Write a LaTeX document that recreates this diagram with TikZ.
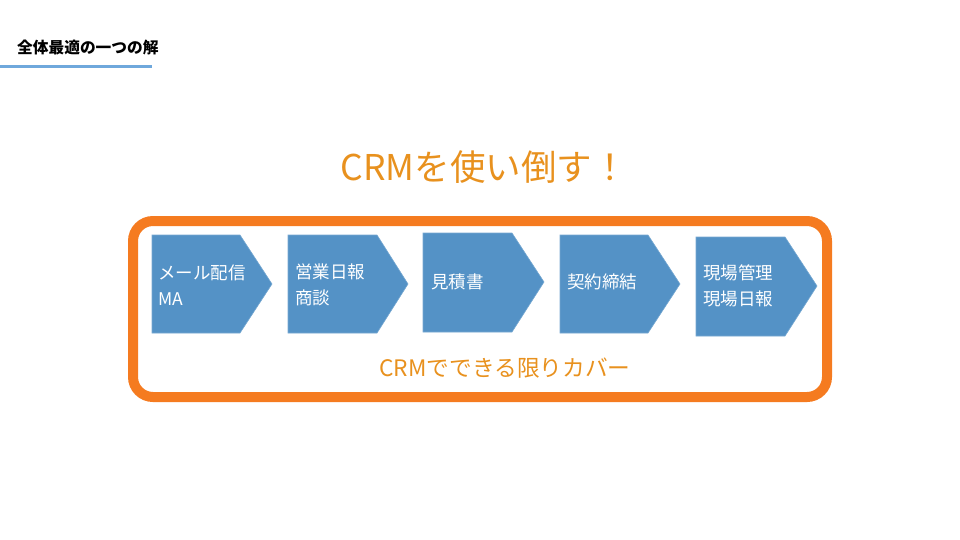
\documentclass[tikz,border=0pt]{standalone}
\usepackage{fontspec}
\setmainfont{Noto Sans CJK JP}
\usepackage{tikz}
\definecolor{crmorange}{RGB}{245,123,32}
\definecolor{crmtext}{RGB}{232,145,30}
\definecolor{stepblue}{RGB}{84,146,198}
\definecolor{lineblue}{RGB}{111,168,220}
\tikzset{
  stepshape/.style = {fill=stepblue, draw=stepblue!80!white, line width=0.6pt},
  steplabel/.style = {anchor=west, text=white, align=left, font=\fontsize{17.5}{26}\selectfont, inner sep=0pt}
}

\begin{document}
\begin{tikzpicture} [x = 1pt, y = -1pt]
\useasboundingbox (0, 0) rectangle (960, 540);
\node[anchor=west, font=\fontsize{15.7}{18}\selectfont\bfseries, inner sep=0pt] (title) at (17, 48){全体最適の一つの解};
\draw[line width=3pt, lineblue] (0, 67) -- (152, 67);
\node[text=crmtext, font=\fontsize{35.5}{40}\selectfont, inner sep=0pt] (slogan) at (484, 167){CRMを使い倒す！};
\draw[line width=10pt, crmorange, rounded corners=20pt] (133, 221) rectangle (827, 397);
\fill[stepshape] (152, 235) -- (240, 235) -- (272, 284) -- (240, 333) -- (152, 333) -- cycle;
\fill[stepshape] (288, 235) -- (377, 235) -- (408, 284) -- (377, 333) -- (288, 333) -- cycle;
\fill[stepshape] (423, 233) -- (512, 233) -- (544, 282) -- (512, 332) -- (423, 332) -- cycle;
\fill[stepshape] (560, 235) -- (648, 235) -- (680, 284) -- (648, 333) -- (560, 333) -- cycle;
\fill[stepshape] (696, 237) -- (785, 237) -- (817, 286) -- (785, 336) -- (696, 336) -- cycle;
\node[steplabel] (mail) at (158, 285){メール配信\\MA};
\node[steplabel] (sales) at (295, 285){営業日報\\商談};
\node[steplabel] (quote) at (431, 282){見積書};
\node[steplabel] (contract) at (567, 282){契約締結};
\node[steplabel] (site) at (703, 286){現場管理\\現場日報};
\node[text=crmtext, font=\fontsize{22.7}{26}\selectfont, inner sep=0pt] (cover) at (505, 368){CRMでできる限りカバー};
\end{tikzpicture}
\end{document}
